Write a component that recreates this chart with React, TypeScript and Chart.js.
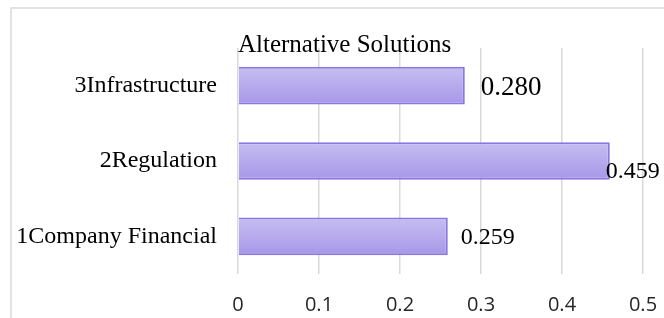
import React, { useEffect, useRef } from "react";
import { Chart, registerables } from "chart.js";

Chart.register(...registerables);

const categories = ["3Infrastructure", "2Regulation", "1Company Financial"];
const values = [0.28, 0.459, 0.259];
const valueLabels = ["0.280", "0.459", "0.259"];
const xTicks = [0, 0.1, 0.2, 0.3, 0.4, 0.5];
const chartTitle = "Alternative Solutions";

// label styles (size, horizontal offset from bar end, vertical offset from bar centre)
const labelStyles = [
  { size: 27, dx: 16, dy: 2 },
  { size: 24, dx: -4, dy: 11 },
  { size: 24, dx: 13, dy: 1 },
];

const SERIF = '"Liberation Serif", "Times New Roman", serif';

export default function App() {
  const ref = useRef<HTMLCanvasElement | null>(null);

  useEffect(() => {
    document.body.style.margin = "0";
    const canvas = ref.current!;
    const framePlugin = {
      id: "frame",
      beforeDraw(chart: any) {
        const ctx = chart.ctx;
        ctx.save();
        ctx.fillStyle = "#ffffff";
        ctx.fillRect(0, 0, chart.width, chart.height);
        ctx.strokeStyle = "#d9d9d9";
        ctx.lineWidth = 1.5;
        ctx.beginPath();
        ctx.moveTo(11, chart.height);
        ctx.lineTo(11, 8);
        ctx.lineTo(chart.width, 8);
        ctx.stroke();
        ctx.restore();
      },
      afterDraw(chart: any) {
        const ctx = chart.ctx;
        ctx.save();
        ctx.fillStyle = "#000";
        ctx.font = `25px ${SERIF}`;
        ctx.textAlign = "left";
        ctx.textBaseline = "alphabetic";
        ctx.fillText(chartTitle, chart.chartArea.left, 52);
        const meta = chart.getDatasetMeta(0);
        meta.data.forEach((bar: any, i: number) => {
          const st = labelStyles[i];
          ctx.font = `${st.size}px ${SERIF}`;
          ctx.textBaseline = "middle";
          ctx.fillText(valueLabels[i], bar.x + st.dx, bar.y + st.dy);
        });
        ctx.restore();
      },
    };

    const chart = new Chart(canvas, {
      type: "bar",
      data: {
        labels: categories,
        datasets: [
          {
            data: values,
            backgroundColor: (c: any) => {
              const { ctx, chartArea, scales } = c.chart;
              if (!chartArea || !scales || !scales.y) return "#b6abee";
              const yc = scales.y.getPixelForValue(c.dataIndex);
              if (!Number.isFinite(yc)) return "#b6abee";
              const h = 38;
              const g = ctx.createLinearGradient(0, yc - h / 2, 0, yc + h / 2);
              g.addColorStop(0, "#c6bef1");
              g.addColorStop(1, "#a797e8");
              return g;
            },
            borderColor: "#8a78e0",
            borderWidth: 2,
            categoryPercentage: 1,
            barPercentage: 0.5,
          },
        ],
      },
      options: {
        indexAxis: "y",
        animation: false,
        responsive: false,
        maintainAspectRatio: false,
        layout: { padding: { top: 48, right: 21, left: 0, bottom: 0 } },
        plugins: {
          legend: { display: false },
          tooltip: { enabled: false },
          title: { display: false },
        },
        scales: {
          x: {
            min: 0,
            max: 0.5,
            afterFit: (s: any) => {
              s.height = 44;
              s.paddingLeft = 0;
              s.paddingRight = 0;
            },
            afterBuildTicks: (s: any) => {
              s.ticks = xTicks.map((v) => ({ value: v }));
            },
            grid: { color: "#d9d9d9", lineWidth: 1.5, drawTicks: false },
            border: { display: false },
            ticks: {
              padding: 19,
              color: "#262626",
              font: { family: '"Open Sans", sans-serif', size: 20 },
              callback: (v: any) => String(v),
            },
          },
          y: {
            afterFit: (s: any) => {
              s.width = 238;
            },
            grid: { display: false, drawTicks: false },
            border: { display: false },
            ticks: {
              padding: 21,
              color: "#000",
              font: { family: SERIF, size: 24 },
            },
          },
        },
      },
      plugins: [framePlugin],
    } as any);
    return () => chart.destroy();
  }, []);

  return (
    <div style={{ position: "fixed", left: 0, top: 0, width: 664, height: 318 }}>
      <canvas ref={ref} width={664} height={318} style={{ width: 664, height: 318 }} />
    </div>
  );
}
